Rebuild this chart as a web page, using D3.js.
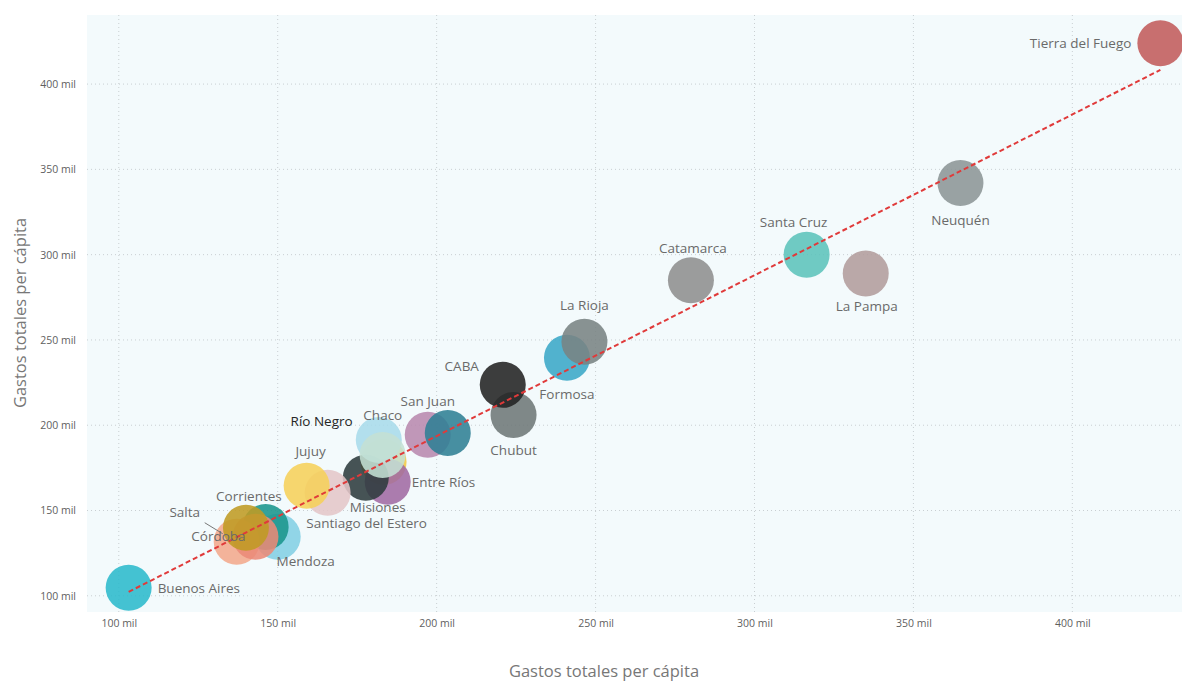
<!DOCTYPE html>
<html>
<head>
<meta charset="utf-8">
<script src="https://cdn.jsdelivr.net/npm/d3@7"></script>
<style>
  body { margin: 0; padding: 0; background: #fff; }
  svg { display: block; }
</style>
</head>
<body>
<script>
// provincias en orden de dibujo (abajo -> arriba)
const provincias = ["Tierra del Fuego", "Neuquén", "Santa Cruz", "La Pampa", "Catamarca", "Formosa",
  "La Rioja", "Chubut", "CABA", "San Juan", "Santa Fe", "San Luis", "Entre Ríos", "Misiones", "Chaco",
  "Río Negro", "Santiago del Estero", "Jujuy", "Mendoza", "Tucumán", "Salta", "Córdoba", "Corrientes",
  "Buenos Aires"];
// gastos totales per cápita, miles de pesos
const gastoX = [427.7, 364.8, 316.4, 335.0, 280.0, 241.0, 246.5, 224.2, 220.8, 197.2, 203.5, 183.3, 184.6,
  177.7, 181.8, 183.0, 165.7, 159.1, 150.0, 146.2, 137.1, 143.0, 140.0, 103.1];
const gastoY = [424.0, 342.0, 300.0, 289.0, 285.0, 239.5, 249.0, 206.0, 223.7, 194.4, 195.5, 178.5, 166.8,
  169.2, 191.4, 182.6, 160.4, 164.5, 134.6, 140.4, 131.7, 134.6, 139.9, 104.7];
const colores = ["#c25b5b", "#8c9596", "#5cc3bb", "#b29c9c", "#8e8e8e", "#3aa7c7", "#798383", "#6e7777",
  "#222222", "#b889ae", "#2f8094", "#f3c943", "#a06aa3", "#2e3b3e", "#a8dbea", "#c4e0d4", "#e4c6c8",
  "#f6d05a", "#83cfe4", "#19958c", "#f3a98c", "#ea8a78", "#bf9b23", "#2bb9cc"];
const ticks = [100, 150, 200, 250, 300, 350, 400];
// línea de tendencia, extremos
const tendX = [103.1, 427.7];
const tendY = [102.3, 408.3];

// ubicación de etiquetas respecto al centro del círculo
const etiquetas = {
  "Tierra del Fuego": { dx: -29, dy: 0, anchor: "end" },
  "Neuquén": { dx: 0, dy: 37 },
  "Santa Cruz": { dx: -13, dy: -32 },
  "La Pampa": { dx: 1, dy: 33 },
  "Catamarca": { dx: 2, dy: -32 },
  "La Rioja": { dx: 0, dy: -36 },
  "Formosa": { dx: 0, dy: 36 },
  "CABA": { dx: -41, dy: -19 },
  "Chubut": { dx: 0, dy: 35 },
  "San Juan": { dx: 0, dy: -34 },
  "Chaco": { dx: 4, dy: -25 },
  "Río Negro": { dx: -61, dy: -34, dark: true },
  "Entre Ríos": { dx: 24, dy: 0, anchor: "start" },
  "Jujuy": { dx: 4, dy: -35 },
  "Misiones": { dx: 12, dy: 30 },
  "Santiago del Estero": { dx: 39, dy: 31 },
  "Corrientes": { dx: 3, dy: -31 },
  "Salta": { dx: -52, dy: -29, leader: true },
  "Córdoba": { dx: -37, dy: -1 },
  "Mendoza": { dx: 28, dy: 24 },
  "Buenos Aires": { dx: 29, dy: 0, anchor: "start" }
};

const width = 1182, height = 681;
const plot = { left: 87, right: 1182, top: 15, bottom: 612 };
const font = "'Open Sans', 'Noto Sans', sans-serif";

const x = d3.scaleLinear().domain([90, 434.5]).range([plot.left, plot.right]);
const y = d3.scaleLinear().domain([90.5, 440.5]).range([plot.bottom, plot.top]);

const svg = d3.select("body").append("svg")
  .attr("width", width)
  .attr("height", height);

svg.append("rect")
  .attr("x", plot.left).attr("y", plot.top)
  .attr("width", plot.right - plot.left).attr("height", plot.bottom - plot.top)
  .attr("fill", "#f3fafc");

// grilla
const grid = svg.append("g")
  .attr("stroke", "#c9cfd2")
  .attr("stroke-width", 1)
  .attr("stroke-dasharray", "1,3");
grid.selectAll(".gx").data(ticks).join("line")
  .attr("x1", d => x(d)).attr("x2", d => x(d))
  .attr("y1", plot.top).attr("y2", plot.bottom);
grid.selectAll(".gy").data(ticks).join("line")
  .attr("y1", d => y(d)).attr("y2", d => y(d))
  .attr("x1", plot.left).attr("x2", plot.right);

const fmt = d => d + " mil";

const xAxis = svg.append("g")
  .attr("transform", `translate(0,${plot.bottom})`)
  .call(d3.axisBottom(x).tickValues(ticks).tickFormat(fmt).tickSize(0).tickPadding(8));
const yAxis = svg.append("g")
  .attr("transform", `translate(${plot.left},0)`)
  .call(d3.axisLeft(y).tickValues(ticks).tickFormat(fmt).tickSize(0).tickPadding(11));
[xAxis, yAxis].forEach(a => {
  a.select(".domain").remove();
  a.selectAll("text")
    .attr("fill", "#5f5f5f")
    .style("font-family", font)
    .style("font-size", "10.5px");
});

svg.append("text")
  .attr("x", 604).attr("y", 677)
  .attr("text-anchor", "middle")
  .attr("fill", "#777")
  .style("font-family", font).style("font-size", "16.5px")
  .text("Gastos totales per cápita");

svg.append("text")
  .attr("transform", "translate(26,313) rotate(-90)")
  .attr("text-anchor", "middle")
  .attr("fill", "#777")
  .style("font-family", font).style("font-size", "16.5px")
  .text("Gastos totales per cápita");

const puntos = provincias.map((p, i) => ({ nombre: p, gx: gastoX[i], gy: gastoY[i], color: colores[i] }));

svg.append("g")
  .selectAll("circle")
  .data(puntos)
  .join("circle")
  .attr("cx", d => x(d.gx))
  .attr("cy", d => y(d.gy))
  .attr("r", 23)
  .attr("fill", d => d.color)
  .attr("fill-opacity", 0.88);

// linea de tendencia
svg.append("line")
  .attr("x1", x(tendX[0])).attr("y1", y(tendY[0]))
  .attr("x2", x(tendX[1])).attr("y2", y(tendY[1]))
  .attr("stroke", "#e03a3a")
  .attr("stroke-width", 2)
  .attr("stroke-dasharray", "5,3");

// etiquetas
const lab = svg.append("g")
  .style("font-family", font)
  .style("font-size", "13.5px");
puntos.filter(d => etiquetas[d.nombre]).forEach(d => {
  const e = etiquetas[d.nombre];
  const cx = x(d.gx), cy = y(d.gy);
  if (e.leader) {
    lab.append("line")
      .attr("x1", cx + e.dx + 20).attr("y1", cy + e.dy + 10)
      .attr("x2", cx - 14).attr("y2", cy - 8)
      .attr("stroke", "#777").attr("stroke-width", 1);
  }
  lab.append("text")
    .attr("x", cx + e.dx).attr("y", cy + e.dy)
    .attr("dy", "0.35em")
    .attr("text-anchor", e.anchor || "middle")
    .attr("fill", e.dark ? "#252525" : "#6a6a6a")
    .text(d.nombre);
});
</script>
</body>
</html>
